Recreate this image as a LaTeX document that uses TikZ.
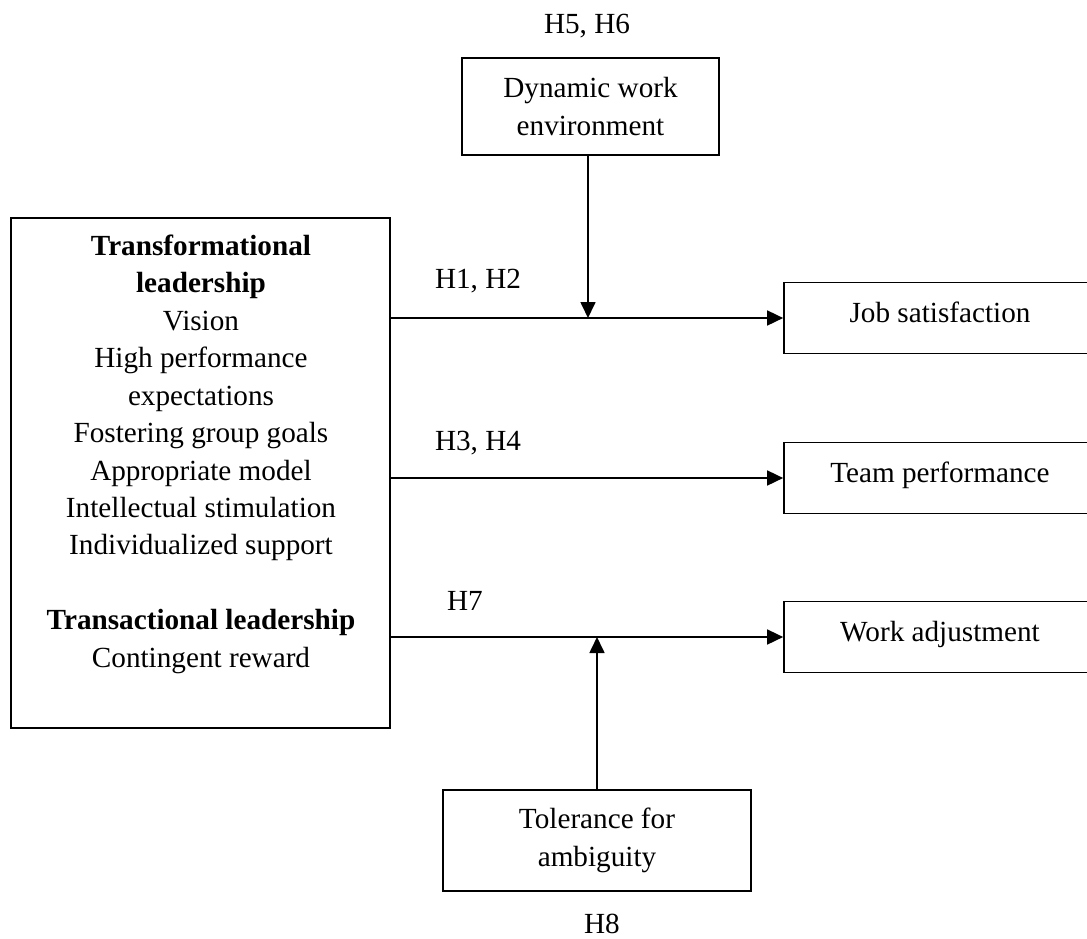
\documentclass[tikz,border=0pt]{standalone}
\usepackage{fontspec}
\setmainfont{Liberation Serif}
\usetikzlibrary{arrows.meta}
\begin{document}
\begin{tikzpicture}[x=1pt,y=-1pt,
  every node/.style={font=\fontsize{29.2}{37.45}\selectfont, inner sep=0pt},
  box/.style={draw, line width=1.7pt},
  rbox/.style={box, minimum width=312pt, minimum height=71pt, text height=20pt, text depth=12pt},
  conn/.style={line width=1.7pt, -{Triangle[length=16pt,width=15pt]}}]
\useasboundingbox (0,0) rectangle (1087,938);
% left box
\node[box, minimum width=379pt, minimum height=510pt] (lbox) at (200.5,473) {};
\node[align=center] (ltxt) at (201,454.2) {\textbf{Transformational}\\\textbf{leadership}\\Vision\\High performance\\expectations\\Fostering group goals\\Appropriate model\\Intellectual stimulation\\Individualized support\\[37.45pt]\textbf{Transactional leadership}\\Contingent reward};
% outcome boxes
\node[rbox] (js) at (940,318) {Job satisfaction};
\node[rbox] (tp) at (940,478) {Team performance};
\node[rbox] (wa) at (940,637) {Work adjustment};
% moderators
\node[box, minimum width=257pt, minimum height=97pt, align=center] (dyn) at (590.5,106.5) {Dynamic work\\environment};
\node[box, minimum width=308pt, minimum height=101pt, align=center] (tol) at (597,840.5) {Tolerance for\\ambiguity};
% labels
\node (h12) at (478,281) {H1, H2};
\node (h34) at (478,443) {H3, H4};
\node (h7) at (465,601) {H7};
\node (h56) at (587,26) {H5, H6};
\node (h8) at (602,924) {H8};
% connectors
\draw[conn] (lbox.east |- js.west) -- (js.west);
\draw[conn] (lbox.east |- tp.west) -- (tp.west);
\draw[conn] (lbox.east |- wa.west) -- (wa.west);
\coordinate (m1) at (588,318);
\draw[conn] (dyn.south -| m1) -- (m1);
\coordinate (m2) at (597,637);
\draw[conn] (tol.north) -- (m2);
\end{tikzpicture}
\end{document}
